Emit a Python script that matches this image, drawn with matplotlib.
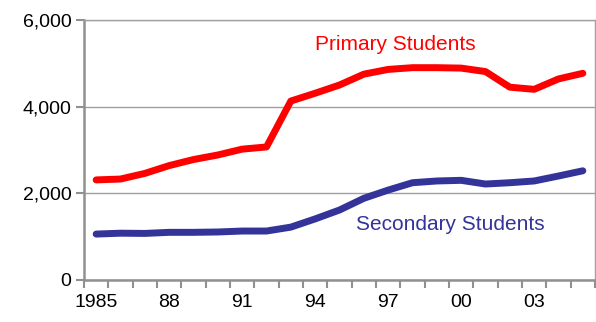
import numpy as np
import matplotlib.pyplot as plt
from matplotlib.ticker import FuncFormatter

plt.rcParams['font.family'] = ['Liberation Sans', 'DejaVu Sans']

# data (thousands of students)
years = list(range(1985, 2006))
primary = [2310, 2330, 2460, 2640, 2780, 2885, 3020, 3070, 4130, 4310,
           4500, 4750, 4860, 4900, 4900, 4890, 4810, 4450, 4400, 4640, 4770]
secondary = [1060, 1080, 1075, 1100, 1100, 1108, 1130, 1130, 1220, 1410,
             1615, 1885, 2075, 2245, 2285, 2300, 2215, 2245, 2285, 2400, 2520]
tick_labels = ['1985', '88', '91', '94', '97', '00', '03']

fig = plt.figure(figsize=(5.96, 3.22), dpi=100)
ax = fig.add_axes([84/596, 42/322, 511/596, 260/322])

x = np.arange(len(years))
ax.plot(x, primary, color='#FF0000', lw=5, solid_capstyle='round', zorder=3)
ax.plot(x, secondary, color='#333399', lw=5, solid_capstyle='round', zorder=3)

ax.set_xlim(-0.5, len(years) - 0.5)
ax.set_ylim(0, 6000)
ax.set_yticks([0, 2000, 4000, 6000])
ax.yaxis.set_major_formatter(FuncFormatter(lambda v, p: f'{int(v):,}'))
ax.grid(axis='y', color='#A0A0A0', lw=1)
ax.set_axisbelow(True)

# category ticks: labels at centres, marks at boundaries
ax.set_xticks(x[::3])
ax.set_xticklabels(tick_labels)
ax.set_xticks(np.arange(-0.5, len(years), 1), minor=True)
ax.tick_params(axis='x', which='major', length=0, pad=10, labelsize=14)
ax.tick_params(axis='x', which='minor', length=6, width=1.5, color='#909090')
ax.tick_params(axis='y', length=6, width=1.5, color='#909090', pad=3, labelsize=14)

for s in ['left', 'bottom']:
    ax.spines[s].set_color('#909090')
    ax.spines[s].set_linewidth(1.8)
for s in ['top', 'right']:
    ax.spines[s].set_color('#A0A0A0')
    ax.spines[s].set_linewidth(1)

ax.text(12.3, 5430, 'Primary Students', color='#FF0000', fontsize=15,
        ha='center', va='center')
ax.text(14.55, 1270, 'Secondary Students', color='#333399', fontsize=15,
        ha='center', va='center')

fig.savefig('out.png', dpi=100)
